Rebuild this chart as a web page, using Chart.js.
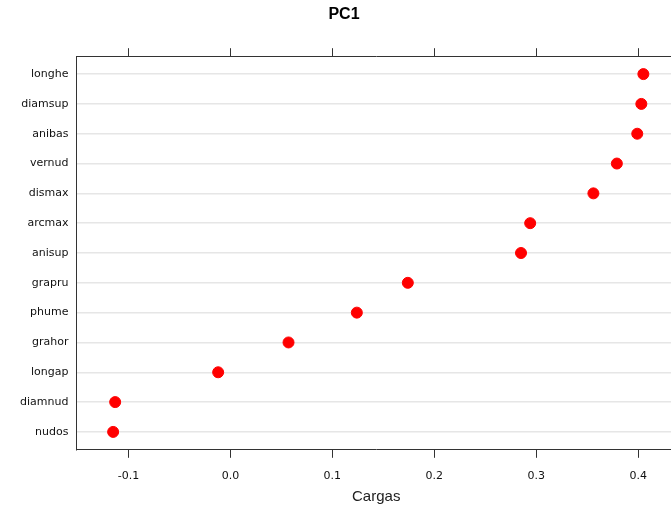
<!DOCTYPE html>
<html lang="es">
<head>
    <meta charset="UTF-8">
    <title>PC1 - Cargas</title>
    <style>
        html, body {
            margin: 0;
            padding: 0;
            background: white;
            overflow: hidden;
        }
        #wrap {
            width: 694px;
            height: 506px;
        }
    </style>
    <script src="https://cdn.jsdelivr.net/npm/chart.js"></script>
</head>
<body>
    <div id="wrap"><canvas id="pcChart" width="694" height="506"></canvas></div>
    <script>
        // variables, from top to bottom
        var categories = ['longhe', 'diamsup', 'anibas', 'vernud', 'dismax', 'arcmax', 'anisup',
                          'grapru', 'phume', 'grahor', 'longap', 'diamnud', 'nudos'];
        var loadings = [0.405, 0.403, 0.399, 0.379, 0.356, 0.294, 0.285,
                        0.174, 0.124, 0.057, -0.012, -0.113, -0.115];
        var xTicks = [-0.1, 0.0, 0.1, 0.2, 0.3, 0.4];

        var points = categories.map(function (c, i) {
            return { x: loadings[i], y: i + 1 };
        });

        var tickFont = { family: 'DejaVu Sans', size: 11 };

        function setXTicks(scale) {
            scale.ticks = xTicks.map(function (v) { return { value: v }; });
        }

        var config = {
            type: 'scatter',
            data: {
                datasets: [{
                    label: 'PC1',
                    data: points,
                    backgroundColor: '#ff0000',
                    borderColor: '#ff0000',
                    pointRadius: 5.5,
                    pointHoverRadius: 5.5
                }]
            },
            options: {
                responsive: false,
                animation: false,
                layout: { padding: { left: 12, right: 18, top: 0, bottom: 0 } },
                plugins: {
                    legend: { display: false },
                    tooltip: { enabled: false },
                    title: {
                        display: true,
                        text: 'PC1',
                        color: '#000',
                        font: { family: 'Liberation Sans', size: 16, weight: 'bold' },
                        padding: { top: 5, bottom: 24 }
                    }
                },
                scales: {
                    x: {
                        type: 'linear',
                        position: 'bottom',
                        min: -0.151,
                        max: 0.437,
                        afterBuildTicks: setXTicks,
                        grid: { drawOnChartArea: false, drawTicks: true, tickLength: 8, color: '#333' },
                        border: { color: '#333', width: 1 },
                        ticks: {
                            color: '#111',
                            font: tickFont,
                            padding: 12,
                            callback: function (v) { return v.toFixed(1); }
                        },
                        title: {
                            display: true,
                            text: 'Cargas',
                            color: '#222',
                            font: { family: 'Liberation Sans', size: 15 },
                            padding: { top: -7, bottom: 0 }
                        }
                    },
                    xTop: {
                        type: 'linear',
                        position: 'top',
                        min: -0.151,
                        max: 0.437,
                        afterBuildTicks: setXTicks,
                        grid: { drawOnChartArea: false, drawTicks: true, tickLength: 8, color: '#333' },
                        border: { color: '#333', width: 1 },
                        ticks: { display: false }
                    },
                    y: {
                        type: 'linear',
                        reverse: true,
                        min: 0.4,
                        max: 13.6,
                        afterBuildTicks: function (scale) {
                            scale.ticks = categories.map(function (c, i) { return { value: i + 1 }; });
                        },
                        grid: { drawTicks: false, color: '#e6e6e6', lineWidth: 1.5 },
                        border: { color: '#333', width: 1 },
                        ticks: {
                            color: '#111',
                            font: tickFont,
                            padding: 8,
                            callback: function (v) { return categories[v - 1]; }
                        }
                    }
                }
            }
        };

        var pcChart = new Chart(document.getElementById('pcChart'), config);
    </script>
</body>
</html>
